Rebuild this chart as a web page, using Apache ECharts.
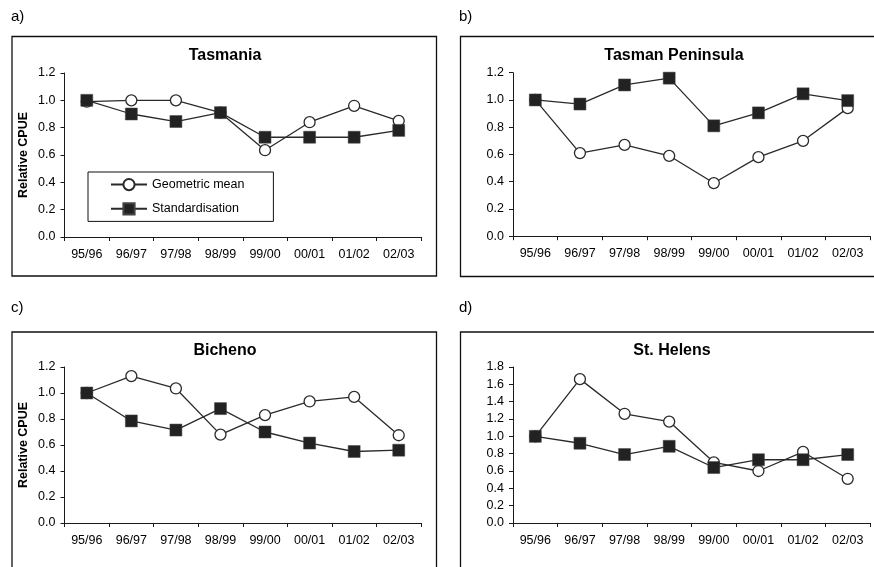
<!DOCTYPE html>
<html>
<head>
<meta charset="utf-8">
<script src="https://cdn.jsdelivr.net/npm/echarts@6/dist/echarts.min.js"></script>
<style>
  html, body { margin: 0; padding: 0; background: #fff; }
  #chart { width: 874px; height: 567px; }
</style>
</head>
<body>
<div id="chart"></div>
<script>
// Fishing seasons on the x axis
const seasons = ['95/96', '96/97', '97/98', '98/99', '99/00', '00/01', '01/02', '02/03'];

// Relative CPUE by region: geometric mean vs. standardised index
const tasmaniaGeo = [0.99, 1.00, 1.00, 0.91, 0.635, 0.84, 0.96, 0.85];
const tasmaniaStd = [1.00, 0.90, 0.845, 0.91, 0.73, 0.73, 0.73, 0.78];

const tasmanGeo = [1.00, 0.61, 0.67, 0.59, 0.39, 0.58, 0.70, 0.94];
const tasmanStd = [1.00, 0.97, 1.11, 1.16, 0.81, 0.905, 1.045, 0.995];

const bichenoGeo = [1.00, 1.13, 1.035, 0.68, 0.83, 0.935, 0.97, 0.675];
const bichenoStd = [1.00, 0.785, 0.715, 0.88, 0.70, 0.615, 0.55, 0.56];

const stHelensGeo = [1.00, 1.66, 1.26, 1.17, 0.70, 0.60, 0.82, 0.51];
const stHelensStd = [1.00, 0.92, 0.79, 0.885, 0.64, 0.73, 0.73, 0.79];

const panelTitles = ['Tasmania', 'Tasman Peninsula', 'Bicheno', 'St. Helens'];
const panelLetters = ['a)', 'b)', 'c)', 'd)'];
const yMax = [1.2, 1.2, 1.2, 1.8];

const FONT = '"Liberation Sans", Arial, sans-serif';
const INK = '#1a1a1a';

// Plot areas (px)
const grids = [
  { left: 64.5, top: 73, width: 356.5, height: 164 },
  { left: 513, top: 72.7, width: 357, height: 163.5 },
  { left: 64.5, top: 367, width: 356.5, height: 156 },
  { left: 513, top: 367, width: 357, height: 156 }
];

const panelData = [
  [tasmaniaGeo, tasmaniaStd],
  [tasmanGeo, tasmanStd],
  [bichenoGeo, bichenoStd],
  [stHelensGeo, stHelensStd]
];

const xAxes = grids.map((g, i) => ({
  type: 'category',
  gridIndex: i,
  data: seasons,
  boundaryGap: true,
  axisLine: { lineStyle: { color: INK, width: 1 } },
  axisTick: { show: true, length: 4, lineStyle: { color: INK } },
  axisLabel: { color: '#000', fontFamily: FONT, fontSize: 12.5, margin: 11 },
  splitLine: { show: false }
}));

const yAxes = grids.map((g, i) => ({
  type: 'value',
  gridIndex: i,
  min: 0,
  max: yMax[i],
  interval: 0.2,
  axisLine: { show: true, lineStyle: { color: INK, width: 1 } },
  axisTick: { show: true, length: 4, lineStyle: { color: INK } },
  axisLabel: {
    color: '#000', fontFamily: FONT, fontSize: 12.5, margin: 9,
    formatter: v => v.toFixed(1)
  },
  splitLine: { show: false },
  name: (i === 0 || i === 2) ? 'Relative CPUE' : '',
  nameLocation: 'middle',
  nameRotate: 90,
  nameGap: 34,
  nameTextStyle: { color: '#000', fontFamily: FONT, fontSize: 12.5, fontWeight: 'bold' }
}));

const series = [];
panelData.forEach((pair, i) => {
  series.push({
    name: 'Geometric mean',
    type: 'line',
    xAxisIndex: i,
    yAxisIndex: i,
    data: pair[0],
    symbol: 'circle',
    symbolSize: 11,
    showAllSymbol: true,
    lineStyle: { color: '#2a2a2a', width: 1.3 },
    itemStyle: { color: '#fff', borderColor: '#2a2a2a', borderWidth: 1.3 },
    emphasis: { disabled: true },
    animation: false,
    z: 2
  });
  series.push({
    name: 'Standardisation',
    type: 'line',
    xAxisIndex: i,
    yAxisIndex: i,
    data: pair[1],
    symbol: 'rect',
    symbolSize: 12,
    showAllSymbol: true,
    lineStyle: { color: '#2a2a2a', width: 1.3 },
    itemStyle: { color: '#222', borderColor: '#444', borderWidth: 0.5 },
    emphasis: { disabled: true },
    animation: false,
    z: 3
  });
});

// Panel frames, panel letters and panel titles
const graphics = [];
const frames = [
  { x: 12, y: 36.5, w: 424.5, h: 239.5 },
  { x: 460.5, y: 36.5, w: 430, h: 240 },
  { x: 12, y: 332, w: 424.5, h: 260 },
  { x: 460.5, y: 332, w: 430, h: 260 }
];
frames.forEach(f => {
  graphics.push({
    type: 'rect',
    shape: { x: f.x, y: f.y, width: f.w, height: f.h },
    style: { fill: null, stroke: '#111', lineWidth: 1.3 },
    silent: true,
    z: 0
  });
});
const letterPos = [[11, 17], [459, 17], [11, 308], [459, 308]];
letterPos.forEach((p, i) => {
  graphics.push({
    type: 'text',
    x: p[0], y: p[1],
    style: {
      text: panelLetters[i], fill: '#000', font: '15px ' + FONT,
      textAlign: 'left', textVerticalAlign: 'middle'
    },
    silent: true
  });
});
const titlePos = [[225, 56], [674, 56], [225, 351], [672, 351]];
titlePos.forEach((p, i) => {
  graphics.push({
    type: 'text',
    x: p[0], y: p[1],
    style: {
      text: panelTitles[i], fill: '#000', font: 'bold 16px ' + FONT,
      textAlign: 'center', textVerticalAlign: 'middle'
    },
    silent: true
  });
});

const chart = echarts.init(document.getElementById('chart'), null, { renderer: 'canvas' });
chart.setOption({
  backgroundColor: '#fff',
  animation: false,
  grid: grids.map(g => Object.assign({ containLabel: false }, g)),
  xAxis: xAxes,
  yAxis: yAxes,
  legend: {
    data: ['Geometric mean', 'Standardisation'],
    orient: 'vertical',
    left: 88,
    top: 172,
    itemWidth: 36,
    itemHeight: 14,
    itemGap: 11,
    padding: [6, 29, 6, 22],
    borderColor: '#111',
    borderWidth: 1,
    backgroundColor: '#fff',
    selectedMode: false,
    textStyle: { color: '#000', fontFamily: FONT, fontSize: 12.5 }
  },
  graphic: graphics,
  series: series
});
</script>
</body>
</html>
